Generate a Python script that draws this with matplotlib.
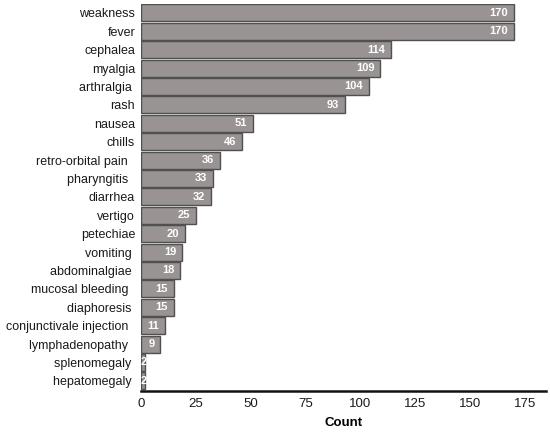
import matplotlib
matplotlib.use('Agg')
import matplotlib.pyplot as plt

plt.rcParams['font.family'] = ['Liberation Sans', 'DejaVu Sans']

# symptoms, top to bottom (trailing spaces as in the original labels)
symptoms = ['weakness', 'fever', 'cephalea', 'myalgia', 'arthralgia ', 'rash',
            'nausea', 'chills', 'retro-orbital pain  ', 'pharyngitis  ', 'diarrhea',
            'vertigo', 'petechiae', 'vomiting ', 'abdominalgiae ', 'mucosal bleeding  ',
            'diaphoresis ', 'conjunctivale injection  ', 'lymphadenopathy  ',
            'splenomegaly ', 'hepatomegaly ']
counts = [170, 170, 114, 109, 104, 93, 51, 46, 36, 33, 32, 25, 20, 19, 18, 15, 15,
          11, 9, 2, 2]
x_ticks = [0, 25, 50, 75, 100, 125, 150, 175]

fig = plt.figure(figsize=(5.5, 4.33), dpi=100)
ax = fig.add_axes([0.2558, 0.097, 0.7364, 0.8945])

n = len(symptoms)
ypos = list(range(n - 1, -1, -1))
bars = ax.barh(ypos, counts, height=0.92, color='#999393', edgecolor='#505050',
               linewidth=1.0)

for y, c in zip(ypos, counts):
    if c >= 5:
        ax.text(c - 2.6, y, str(c), ha='right', va='center', color='white',
                fontsize=8, fontweight='bold')
    else:
        ax.text(c / 2 + 0.2, y, str(c), ha='center', va='center', color='white',
                fontsize=8, fontweight='bold')

ax.set_yticks(ypos)
ax.set_yticklabels(symptoms, fontsize=9, color='#1a1a1a')
ax.set_xticks(x_ticks)
ax.set_xticklabels([str(t) for t in x_ticks], fontsize=9.5, color='#1a1a1a')
ax.set_xlim(0, 184.5)
ax.set_ylim(-0.55, 20.5)
ax.tick_params(axis='both', length=0)
ax.tick_params(axis='y', pad=4)
ax.tick_params(axis='x', pad=5)

for s in ['top', 'right', 'left']:
    ax.spines[s].set_visible(False)
ax.spines['bottom'].set_linewidth(1.8)
ax.spines['bottom'].set_color('#111111')

ax.set_xlabel('Count', fontsize=9.5, fontweight='bold', labelpad=5)

fig.savefig('out.png', dpi=100)
